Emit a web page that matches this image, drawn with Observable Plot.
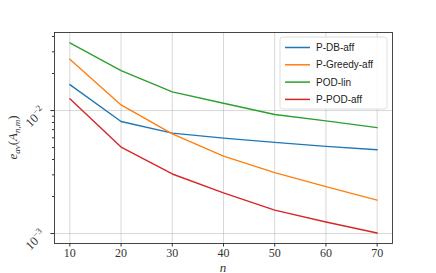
<!DOCTYPE html>
<html>
<head>
<meta charset="utf-8">
<script src="https://cdn.jsdelivr.net/npm/d3@7"></script>
<script src="https://cdn.jsdelivr.net/npm/@observablehq/plot@0.6"></script>
<style>
  html, body { margin: 0; padding: 0; background: #fff; }
  #chart { width: 436px; height: 273px; }
</style>
</head>
<body>
<div id="chart"></div>
<script>
const nValues = [10, 20, 30, 40, 50, 60, 70];
const seriesNames = ["P-DB-aff", "P-Greedy-aff", "POD-lin", "P-POD-aff"];
const seriesColors = ["#1f77b4", "#ff7f0e", "#2ca02c", "#d62728"];
const pDBaff     = [0.01626, 0.00815, 0.00655, 0.00597, 0.00551, 0.00511, 0.00480];
const pGreedyAff = [0.0261, 0.0111, 0.00647, 0.00426, 0.00313, 0.00241, 0.00187];
const podLin     = [0.0355, 0.0211, 0.0142, 0.01146, 0.00928, 0.00824, 0.00727];
const pPODaff    = [0.01245, 0.00505, 0.00305, 0.00214, 0.00155, 0.00124, 0.00101];
const majorYTicks = [0.001, 0.01];
const majorYExp = ["−3", "−2"];
const minorYTicks = [0.002, 0.003, 0.004, 0.005, 0.006, 0.007, 0.008, 0.009, 0.02, 0.03, 0.04];

const seriesValues = [pDBaff, pGreedyAff, podLin, pPODaff];
const data = [];
seriesNames.forEach((name, i) => {
  nValues.forEach((n, j) => data.push({series: name, n, e: seriesValues[i][j]}));
});

const serif = "'Liberation Serif', 'DejaVu Serif', serif";

function yTickLabels(index, scales, values, dims) {
  const g = d3.create("svg:g").attr("font-family", serif).attr("font-size", 12.5).attr("fill", "#333");
  majorYTicks.forEach((v, i) => {
    const y = scales.y(v);
    const x = dims.marginLeft - 8;
    const t = g.append("text")
      .attr("transform", `translate(${x},${y + 2}) rotate(-45)`)
      .attr("text-anchor", "end");
    t.append("tspan").text("10");
    t.append("tspan").attr("dy", -5).attr("font-size", 9).text(majorYExp[i]);
  });
  return g.node();
}

function axisLabels(index, scales, values, dims) {
  const g = d3.create("svg:g").attr("font-family", serif).attr("fill", "#333");
  const cx = dims.marginLeft + (dims.width - dims.marginLeft - dims.marginRight) / 2;
  g.append("text").attr("x", cx).attr("y", dims.height - 1.5)
    .attr("text-anchor", "middle").attr("font-size", 13).attr("font-style", "italic").text("n");
  const cy = dims.marginTop + (dims.height - dims.marginTop - dims.marginBottom) / 2;
  const t = g.append("text").attr("transform", `translate(17,${cy}) rotate(-90)`)
    .attr("text-anchor", "middle").attr("font-size", 13);
  t.append("tspan").attr("font-style", "italic").text("e");
  t.append("tspan").attr("font-style", "italic").attr("font-size", 9).attr("dy", 2.5).text("av");
  t.append("tspan").attr("dy", -2.5).text("(");
  t.append("tspan").attr("font-style", "italic").text("A");
  t.append("tspan").attr("font-style", "italic").attr("font-size", 9).attr("dy", 2.5).text("n,m");
  t.append("tspan").attr("dy", -2.5).text(")");
  return g.node();
}

function legend(index, scales, values, dims) {
  const right = dims.width - dims.marginRight;
  const w = 107, h = 72;
  const x0 = right - 5 - w, y0 = dims.marginTop + 5;
  const g = d3.create("svg:g");
  g.append("rect").attr("x", x0).attr("y", y0).attr("width", w).attr("height", h)
    .attr("rx", 2.5).attr("fill", "#fff").attr("fill-opacity", 0.85)
    .attr("stroke", "#d5d5d5").attr("stroke-width", 0.8);
  seriesNames.forEach((name, i) => {
    const y = y0 + 10.5 + i * 17.3;
    g.append("line").attr("x1", x0 + 5).attr("x2", x0 + 30).attr("y1", y).attr("y2", y)
      .attr("stroke", seriesColors[i]).attr("stroke-width", 1.5);
    g.append("text").attr("x", x0 + 36).attr("y", y).attr("dy", "0.35em")
      .attr("text-anchor", "start")
      .attr("font-family", "'Liberation Sans', 'DejaVu Sans', sans-serif").attr("font-size", 10)
      .attr("fill", "#222").text(name);
  });
  return g.node();
}

const chart = Plot.plot({
  width: 436,
  height: 273,
  marginLeft: 54,
  marginRight: 44,
  marginTop: 32,
  marginBottom: 30,
  style: {fontFamily: serif, fontSize: "12px", color: "#333", background: "#fff"},
  x: {domain: [7, 73], label: null},
  y: {type: "log", domain: [0.00083, 0.0431], label: null},
  color: {domain: seriesNames, range: seriesColors},
  marks: [
    Plot.gridX({ticks: nValues, stroke: "#b0b0b0", strokeOpacity: 0.55, strokeWidth: 0.9}),
    Plot.gridY({ticks: majorYTicks, stroke: "#b0b0b0", strokeOpacity: 0.55, strokeWidth: 0.9}),
    Plot.line(data, {x: "n", y: "e", z: "series", stroke: "series", strokeWidth: 1.4}),
    Plot.frame({stroke: "#333", strokeWidth: 0.9}),
    Plot.axisX({ticks: nValues, tickSize: 3.5, tickPadding: 1.5, tickFormat: d => String(d), label: null, fontSize: 12}),
    Plot.axisY({ticks: majorYTicks, tickSize: 3.5, tickFormat: () => "", label: null}),
    Plot.axisY({ticks: minorYTicks, tickSize: 2, tickFormat: () => "", label: null}),
    yTickLabels,
    axisLabels,
    legend
  ]
});
document.getElementById("chart").appendChild(chart);
</script>
</body>
</html>
